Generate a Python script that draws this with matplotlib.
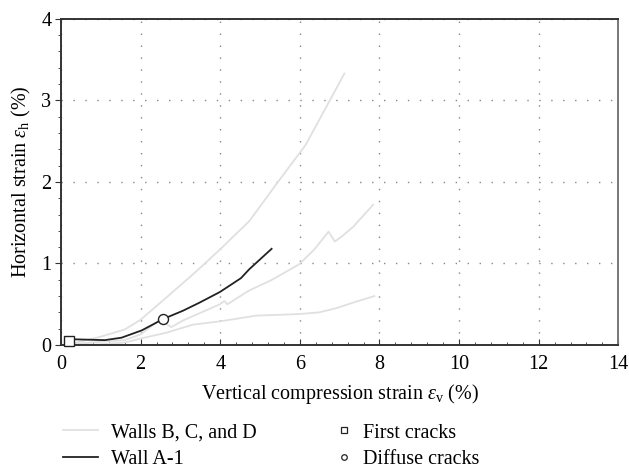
import matplotlib
matplotlib.use('Agg')
import matplotlib.pyplot as plt
from matplotlib.lines import Line2D
from matplotlib.ticker import MultipleLocator

plt.rcParams['font.family'] = ['Liberation Serif', 'DejaVu Serif']
plt.rcParams['mathtext.fontset'] = 'custom'
plt.rcParams['mathtext.rm'] = 'Liberation Serif'
plt.rcParams['mathtext.it'] = 'Liberation Serif:italic'

# walls B, C and D (gray curves)
wall_b_x = [0.3, 0.98, 1.6, 2.0, 2.64, 3.39, 3.99, 4.73, 5.48, 6.14, 6.63, 7.12]
wall_b_y = [0.02, 0.10, 0.19, 0.31, 0.58, 0.90, 1.17, 1.52, 2.02, 2.45, 2.89, 3.33]

wall_c_x = [0.3, 0.98, 1.6, 2.0, 2.48, 2.77, 3.06, 3.48, 3.99, 4.1, 4.18, 4.73, 5.3,
            5.98, 6.36, 6.72, 6.88, 7.05, 7.34, 7.84]
wall_c_y = [0.01, 0.04, 0.06, 0.13, 0.31, 0.22, 0.30, 0.39, 0.50, 0.54, 0.50, 0.67, 0.80,
            0.99, 1.17, 1.39, 1.27, 1.33, 1.45, 1.72]

wall_d_x = [0.5, 1.0, 1.6, 2.0, 2.64, 3.31, 3.99, 4.89, 5.98, 6.48, 6.9, 7.4, 7.87]
wall_d_y = [0.0, 0.01, 0.03, 0.08, 0.15, 0.25, 0.29, 0.36, 0.38, 0.40, 0.45, 0.53, 0.60]

# wall A-1
wall_a_x = [0.19, 0.36, 1.1, 1.52, 2.03, 2.57, 3.06, 3.48, 3.99, 4.52, 4.73, 5.29]
wall_a_y = [0.05, 0.07, 0.06, 0.09, 0.18, 0.32, 0.42, 0.52, 0.65, 0.82, 0.93, 1.18]

first_crack = (0.19, 0.05)
diffuse_crack = (2.57, 0.32)

GRAY = '#e0e0e0'
DARK = '#222222'
FS = 14.5

fig = plt.figure(figsize=(6.29, 4.72), dpi=100)
ax = fig.add_axes([0.097, 0.269, 0.886, 0.691])

for xs, ys in [(wall_b_x, wall_b_y), (wall_c_x, wall_c_y), (wall_d_x, wall_d_y)]:
    ax.plot(xs, ys, color=GRAY, lw=1.3, zorder=2)
ax.plot(wall_a_x, wall_a_y, color=DARK, lw=1.3, zorder=3)
ax.plot(*first_crack, marker='s', ms=6.5, mfc='white', mec=DARK, mew=1.0, zorder=4, clip_on=False)
ax.plot(*diffuse_crack, marker='o', ms=7.2, mfc='white', mec=DARK, mew=1.0, zorder=4, clip_on=False)

ax.set_xlim(0, 14)
ax.set_ylim(0, 4)
ax.xaxis.set_major_locator(MultipleLocator(2))
ax.xaxis.set_minor_locator(MultipleLocator(0.4))
ax.yaxis.set_major_locator(MultipleLocator(1))
ax.yaxis.set_minor_locator(MultipleLocator(0.2))
ax.grid(True, which='major', color='#888888', lw=1.0, ls=(0, (1, 7.6)))
ax.tick_params(axis='x', which='both', direction='in', labelsize=FS, color='#333333', pad=7)
ax.tick_params(axis='x', which='major', length=4)
ax.tick_params(axis='x', which='minor', length=2.5)
ax.tick_params(axis='y', which='both', direction='out', labelsize=FS, color='#333333', pad=3)
ax.tick_params(axis='y', which='major', length=4)
ax.tick_params(axis='y', which='minor', length=2.5)
for side in ['left', 'bottom', 'top']:
    ax.spines[side].set_color('#333333')
    ax.spines[side].set_linewidth(1.4)
ax.spines['right'].set_color('#777777')
ax.spines['right'].set_linewidth(1.4)

ax.set_xlabel(r'Vertical compression strain $\varepsilon_\mathrm{v}$ (%)', fontsize=FS, labelpad=6)
ax.set_ylabel(r'Horizontal strain $\varepsilon_\mathrm{h}$ (%)', fontsize=FS, labelpad=6)

line_handles = [Line2D([], [], color=GRAY, lw=1.3), Line2D([], [], color=DARK, lw=1.3)]
fig.legend(line_handles, ['Walls B, C, and D', 'Wall A-1'], loc='upper left',
           bbox_to_anchor=(0.087, 0.12), frameon=False, fontsize=FS,
           handlelength=1.75, handletextpad=0.65, labelspacing=0.36, borderaxespad=0)

marker_handles = [Line2D([], [], ls='none', marker='s', ms=4, mfc='white', mec=DARK, mew=0.9),
                  Line2D([], [], ls='none', marker='o', ms=4, mfc='white', mec=DARK, mew=0.9)]
fig.legend(marker_handles, ['First cracks', 'Diffuse cracks'], loc='upper left',
           bbox_to_anchor=(0.522, 0.12), frameon=False, fontsize=FS,
           handlelength=0.8, handletextpad=0.5, labelspacing=0.36, borderaxespad=0)

fig.savefig('out.png', dpi=100)
